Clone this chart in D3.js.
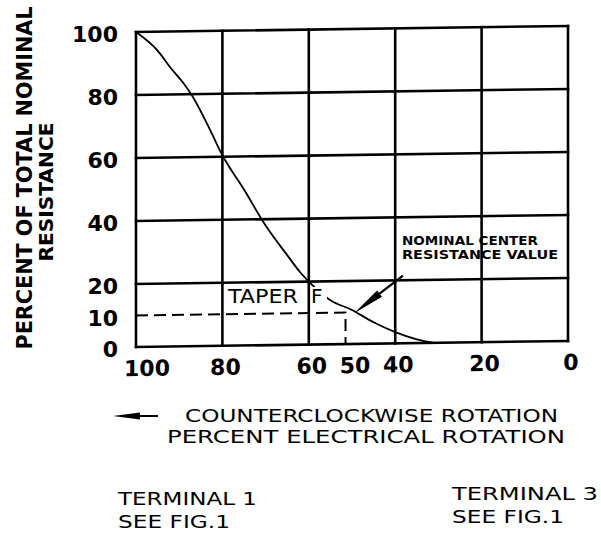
<!DOCTYPE html>
<html>
<head>
<meta charset="utf-8">
<script src="https://cdn.jsdelivr.net/npm/d3@7"></script>
<style>
  body { margin: 0; background: #fff; }
  svg { display: block; }
  text { font-family: 'DejaVu Sans', sans-serif; fill: #000; }
</style>
</head>
<body>
<div id="chart"></div>
<script>
// values
const gridX = [100, 80, 60, 40, 20, 0];
const gridY = [100, 80, 60, 40, 20, 0];
const xTicks = [100, 80, 60, 50, 40, 20, 0];
const yTicks = [100, 80, 60, 40, 20, 10, 0];
const rotation = [100, 95, 92, 89, 87, 83, 80, 75, 70, 65, 62, 60, 55, 50, 45, 40, 35, 31];
const resistance = [100, 94, 88.5, 83.5, 79.5, 69, 60.5, 49.5, 38, 28.5, 23, 20, 14, 10.8, 6.8, 3.6, 1.2, 0];
const nominalX = 51.5;
const nominalY = 10;

const width = 601, height = 535;
const x = d3.scaleLinear().domain([100, 0]).range([136, 568]);
const y = d3.scaleLinear().domain([0, 100]).range([347, 32]);

const svg = d3.select('#chart').append('svg')
  .attr('width', width)
  .attr('height', height);

// the scan is slightly sheared: horizontals rise to the right
const shear = 'translate(136,0) skewY(-0.8) translate(-136,0)';

const curveLayer = svg.append('g').attr('transform', shear);

const line = d3.line()
  .x(d => x(d[0]))
  .y(d => y(d[1]))
  .curve(d3.curveMonotoneX);

curveLayer.append('path')
  .datum(rotation.map((r, i) => [r, resistance[i]]))
  .attr('d', line)
  .attr('fill', 'none')
  .attr('stroke', '#000')
  .attr('stroke-width', 1.8);

// dashed lines to the nominal center value
curveLayer.append('path')
  .attr('d', d3.line()([[x(100), y(nominalY)], [x(nominalX), y(nominalY)], [x(nominalX), y(0)]]))
  .attr('fill', 'none')
  .attr('stroke', '#000')
  .attr('stroke-width', 2)
  .attr('stroke-dasharray', '12,6');

// white patch under the TAPER F label
svg.append('rect')
  .attr('x', 225).attr('y', 287)
  .attr('width', 102).attr('height', 18)
  .attr('fill', '#fff');

const gridLayer = svg.append('g').attr('transform', shear);

gridLayer.selectAll('.vgrid')
  .data(gridX)
  .enter().append('line')
  .attr('class', 'vgrid')
  .attr('x1', d => x(d)).attr('x2', d => x(d))
  .attr('y1', y(0)).attr('y2', y(100))
  .attr('stroke', '#000')
  .attr('stroke-width', 2.6)
  .attr('stroke-linecap', 'square');

gridLayer.selectAll('.hgrid')
  .data(gridY)
  .enter().append('line')
  .attr('class', 'hgrid')
  .attr('x1', x(100)).attr('x2', x(0))
  .attr('y1', d => y(d)).attr('y2', d => y(d))
  .attr('stroke', '#000')
  .attr('stroke-width', 2.6)
  .attr('stroke-linecap', 'square');

// x tick labels
gridLayer.selectAll('.xtick')
  .data(xTicks)
  .enter().append('text')
  .attr('class', 'xtick')
  .attr('x', d => x(d) + (d === 100 ? 11 : 3))
  .attr('y', 376)
  .attr('text-anchor', 'middle')
  .attr('font-family', 'Liberation Sans')
  .attr('font-weight', 'bold')
  .attr('font-size', 22)
  .text(d => d);

// y tick labels
svg.selectAll('.ytick')
  .data(yTicks)
  .enter().append('text')
  .attr('class', 'ytick')
  .attr('x', 118)
  .attr('y', d => y(d) + 10)
  .attr('text-anchor', 'end')
  .attr('font-family', 'Liberation Sans')
  .attr('font-weight', 'bold')
  .attr('font-size', 22)
  .text(d => d);

// curve label
svg.append('text')
  .attr('x', 228).attr('y', 303)
  .attr('font-size', 20)
  .attr('textLength', 70)
  .attr('lengthAdjust', 'spacingAndGlyphs')
  .text('TAPER');
svg.append('text')
  .attr('x', 311).attr('y', 303)
  .attr('font-size', 20)
  .text('F');

// nominal center annotation
const note = svg.append('g')
  .attr('font-weight', 'bold')
  .attr('font-size', 12);
note.append('text')
  .attr('x', 402).attr('y', 245)
  .attr('textLength', 136)
  .attr('lengthAdjust', 'spacingAndGlyphs')
  .text('NOMINAL CENTER');
note.append('text')
  .attr('x', 402).attr('y', 259)
  .attr('textLength', 156)
  .attr('lengthAdjust', 'spacingAndGlyphs')
  .text('RESISTANCE VALUE');

const tip = [x(49.5), y(11.7) + 3];
const tail = [x(38.2), y(23.9) + 4];
const ang = Math.atan2(tail[1] - tip[1], tail[0] - tip[0]);
const headLen = 32, headHalf = 4;
const base = [tip[0] + headLen * Math.cos(ang), tip[1] + headLen * Math.sin(ang)];
svg.append('line')
  .attr('x1', base[0]).attr('y1', base[1])
  .attr('x2', tail[0]).attr('y2', tail[1])
  .attr('stroke', '#000')
  .attr('stroke-width', 2.2);
svg.append('path')
  .attr('d', d3.line()([
    tip,
    [base[0] - headHalf * Math.sin(ang), base[1] + headHalf * Math.cos(ang)],
    [base[0] + headHalf * Math.sin(ang), base[1] - headHalf * Math.cos(ang)]
  ]) + 'Z')
  .attr('fill', '#000');

// y axis title
svg.append('text')
  .attr('transform', 'translate(32,178) rotate(-90)')
  .attr('text-anchor', 'middle')
  .attr('font-weight', 'bold')
  .attr('font-size', 21)
  .attr('textLength', 343)
  .attr('lengthAdjust', 'spacingAndGlyphs')
  .text('PERCENT OF TOTAL NOMINAL');
svg.append('text')
  .attr('transform', 'translate(53,192) rotate(-90)')
  .attr('text-anchor', 'middle')
  .attr('font-weight', 'bold')
  .attr('font-size', 20)
  .attr('textLength', 139)
  .attr('lengthAdjust', 'spacingAndGlyphs')
  .text('RESISTANCE');

// x axis title with direction arrow
svg.append('path')
  .attr('d', d3.line()([[113, 416], [140, 412.5], [140, 419.5]]) + 'Z')
  .attr('fill', '#000');
svg.append('line')
  .attr('x1', 130).attr('y1', 416)
  .attr('x2', 158).attr('y2', 416)
  .attr('stroke', '#000')
  .attr('stroke-width', 2);
svg.append('text')
  .attr('x', 185).attr('y', 422)
  .attr('font-size', 18)
  .attr('textLength', 373)
  .attr('lengthAdjust', 'spacingAndGlyphs')
  .text('COUNTERCLOCKWISE ROTATION');
svg.append('text')
  .attr('x', 167).attr('y', 443)
  .attr('font-size', 18)
  .attr('textLength', 398)
  .attr('lengthAdjust', 'spacingAndGlyphs')
  .text('PERCENT ELECTRICAL ROTATION');

// terminal notes
const terminals = svg.append('g').attr('font-size', 18);
terminals.append('text').attr('x', 118).attr('y', 505)
  .attr('textLength', 139).attr('lengthAdjust', 'spacingAndGlyphs')
  .text('TERMINAL 1');
terminals.append('text').attr('x', 118).attr('y', 528)
  .attr('textLength', 112).attr('lengthAdjust', 'spacingAndGlyphs')
  .text('SEE FIG.1');
terminals.append('text').attr('x', 452).attr('y', 500)
  .attr('textLength', 146).attr('lengthAdjust', 'spacingAndGlyphs')
  .text('TERMINAL 3');
terminals.append('text').attr('x', 452).attr('y', 523)
  .attr('textLength', 112).attr('lengthAdjust', 'spacingAndGlyphs')
  .text('SEE FIG.1');
</script>
</body>
</html>
